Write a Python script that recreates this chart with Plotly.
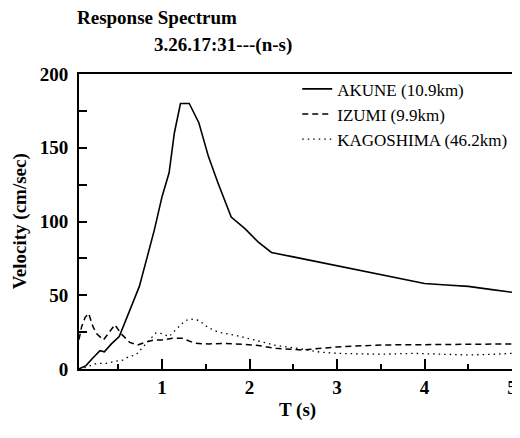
import plotly.graph_objects as go

# ---- data ----
akune_T = [0.05, 0.13, 0.2, 0.29, 0.34, 0.42, 0.51, 0.63, 0.74, 0.83, 0.91, 1.0, 1.08, 1.14,
           1.21, 1.31, 1.42, 1.53, 1.64, 1.79, 1.95, 2.1, 2.25, 2.5, 2.75, 3.0, 3.25, 3.5,
           3.75, 4.0, 4.25, 4.5, 4.75, 5.0]
akune_V = [0, 2.3, 7, 12.4, 11.7, 17, 22, 40, 56, 76, 94, 117, 133, 160,
           180, 180, 167, 144, 126, 103, 95, 86, 79, 76, 73, 70, 67, 64,
           61, 58, 57, 56, 54, 52]

izumi_T = [0.05, 0.08, 0.12, 0.16, 0.21, 0.25, 0.33, 0.40, 0.46, 0.53, 0.63, 0.72, 0.80,
           0.90, 1.0, 1.12, 1.23, 1.38, 1.53, 1.72, 1.95, 2.1, 2.3, 2.6, 3.0, 3.5, 4.0,
           4.5, 5.0]
izumi_V = [20, 28.7, 35, 37.7, 28.7, 24, 19.7, 25, 30, 24, 18, 16.3, 18,
           19.5, 19.7, 20.8, 20.8, 17.4, 17, 17.4, 16.3, 16, 14, 12.9, 15, 16.3, 16.5,
           16.5, 17]

kago_T = [0.05, 0.1, 0.25, 0.36, 0.45, 0.55, 0.62, 0.70, 0.82, 0.93, 1.0, 1.08, 1.18,
          1.25, 1.31, 1.42, 1.53, 1.64, 1.83, 2.06, 2.3, 2.55, 2.8, 3.0, 3.5, 3.87, 4.2,
          4.5, 4.8, 5.0]
kago_V = [0, 0.6, 3.8, 3.8, 5, 6, 8.4, 9.5, 17.4, 24.5, 24, 22, 28,
          32, 34, 33, 28, 25, 23, 19.7, 16, 14, 11.5, 10.6, 10, 10.6, 10,
          9.5, 10, 10.6]

series_names = ["AKUNE (10.9km)", "IZUMI (9.9km)", "KAGOSHIMA (46.2km)"]
title_text = "Response Spectrum"
subtitle_text = "3.26.17:31---(n-s)"
x_title = "T (s)"
y_title = "Velocity (cm/sec)"

FONT = "Liberation Serif"

fig = go.Figure()
fig.add_trace(go.Scatter(x=akune_T, y=akune_V, mode="lines", name=series_names[0],
                         line=dict(color="black", width=1.6, dash="solid")))
fig.add_trace(go.Scatter(x=izumi_T, y=izumi_V, mode="lines", name=series_names[1],
                         line=dict(color="black", width=1.5, dash="6px,4px")))
fig.add_trace(go.Scatter(x=kago_T, y=kago_V, mode="lines", name=series_names[2],
                         line=dict(color="black", width=1.3, dash="1.5px,4px")))

# the page body has an 8px default margin, so the figure is 8px smaller
fig.update_layout(
    width=512, height=430,
    margin=dict(l=71, r=3, t=66, b=69),
    paper_bgcolor="white", plot_bgcolor="white",
    font=dict(family=FONT, color="black", size=18),
    showlegend=True,
    legend=dict(x=0.504, y=1.009, xanchor="left", yanchor="top",
                bgcolor="rgba(0,0,0,0)", borderwidth=0,
                font=dict(family=FONT, size=17, color="black"),
                tracegroupgap=0),
    xaxis=dict(range=[0.05, 5], tick0=0, dtick=1, showgrid=False, zeroline=False,
               showline=True, linecolor="black", linewidth=2, mirror=True,
               ticks="inside", ticklen=10, tickwidth=2, tickcolor="black",
               tickfont=dict(family=FONT, size=19, color="black", weight="bold"),
               ticklabelstandoff=0,
               minor=dict(dtick=0.5, tick0=0, ticks="inside", ticklen=5, tickwidth=2,
                          tickcolor="black", showgrid=False)),
    yaxis=dict(range=[0, 200], tick0=0, dtick=50, showgrid=False, zeroline=False,
               showline=True, linecolor="black", linewidth=2, mirror=True,
               ticks="inside", ticklen=8, tickwidth=2, tickcolor="black",
               tickfont=dict(family=FONT, size=19, color="black", weight="bold"),
               ticklabelstandoff=5,
               minor=dict(dtick=25, tick0=0, ticks="inside", ticklen=8, tickwidth=2,
                          tickcolor="black", showgrid=False)),
)

ann_font_b = dict(family=FONT, size=19, color="black", weight="bold")
fig.add_annotation(text=title_text, xref="paper", yref="paper", x=-0.01, y=1.19,
                   xanchor="left", yanchor="middle", showarrow=False, font=ann_font_b)
fig.add_annotation(text=subtitle_text, xref="paper", yref="paper", x=0.169, y=1.098,
                   xanchor="left", yanchor="middle", showarrow=False,
                   font=dict(family=FONT, size=19, color="black", weight="bold"))
fig.add_annotation(text=y_title, xref="paper", yref="paper", x=-0.137, y=0.5,
                   xanchor="center", yanchor="middle", textangle=-90, showarrow=False,
                   font=ann_font_b)
fig.add_annotation(text=x_title, xref="paper", yref="paper", x=0.505, y=-0.139,
                   xanchor="center", yanchor="middle", showarrow=False, font=ann_font_b)

fig.write_html("out.html")
